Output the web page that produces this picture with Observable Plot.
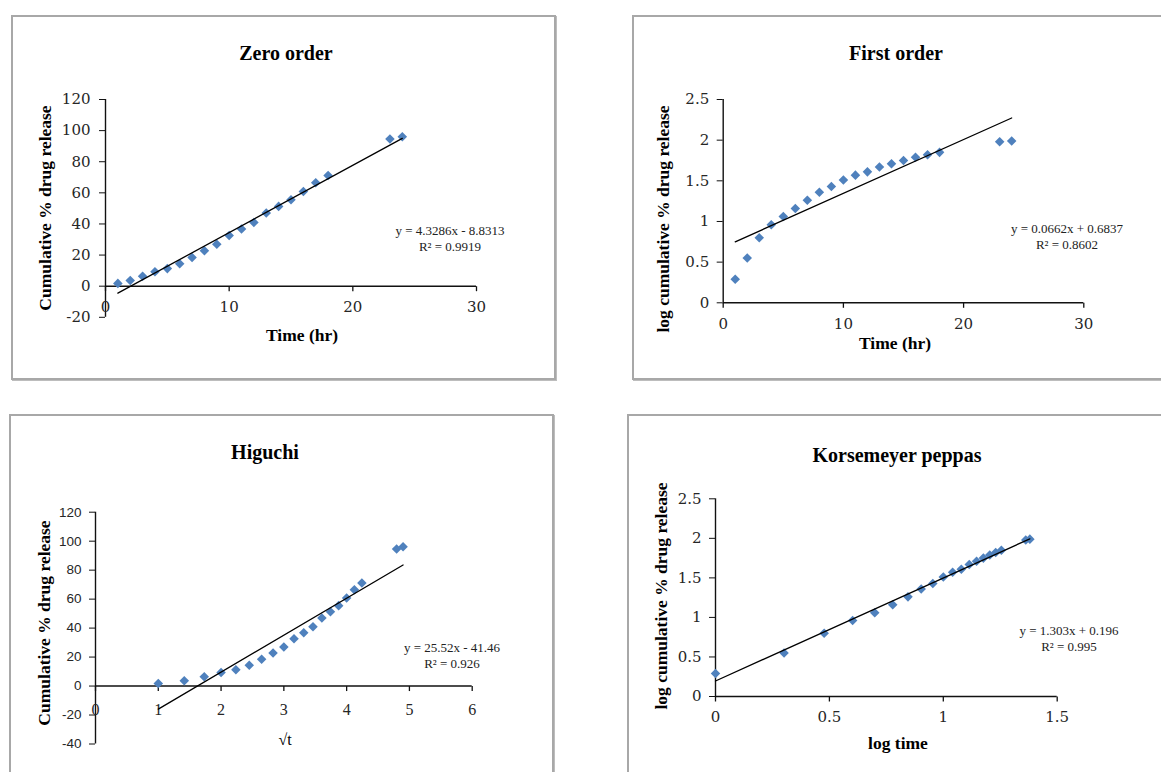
<!DOCTYPE html>
<html>
<head>
<meta charset="utf-8">
<script src="https://cdn.jsdelivr.net/npm/d3@7"></script>
<script src="https://cdn.jsdelivr.net/npm/@observablehq/plot@0.6"></script>
<style>
  html, body { margin: 0; padding: 0; background: #fff; }
  body { position: relative; width: 1161px; height: 772px; overflow: hidden; }
  .box { position: absolute; box-sizing: border-box; border: 2px solid #a8a8a8; box-shadow: 1px 1px 0 #bdbdbd; }
  .chart { position: absolute; }
  .chart svg { overflow: visible; max-width: none !important; }
  .lbl { position: absolute; white-space: nowrap; transform: translate(-50%, -50%); color: #000; font-family: "Liberation Serif", "Times New Roman", serif; }
  .title { font-weight: bold; font-size: 20px; }
  .axt { font-weight: bold; font-size: 17.5px; }
  .yt { transform: translate(-50%, -50%) rotate(-90deg); }
  .eq { font-size: 13px; text-align: center; line-height: 16px; color: #222; }
</style>
</head>
<body>
<script>
// ---------------- data ----------------
const time = [1, 2, 3, 4, 5, 6, 7, 8, 9, 10, 11, 12, 13, 14, 15, 16, 17, 18, 23, 24];
const sqrtTime = [1, 1.414, 1.732, 2, 2.236, 2.449, 2.646, 2.828, 3, 3.162, 3.317, 3.464, 3.606, 3.742, 3.873, 4, 4.123, 4.243, 4.796, 4.899];
const logTime = [0, 0.301, 0.477, 0.602, 0.699, 0.778, 0.845, 0.903, 0.954, 1, 1.041, 1.079, 1.114, 1.146, 1.176, 1.204, 1.23, 1.255, 1.362, 1.38];
const release = [1.8, 3.6, 6.4, 9.3, 11.3, 14.4, 18.5, 22.8, 27.0, 32.6, 36.8, 41.0, 47.0, 51.3, 55.5, 60.8, 66.5, 71.2, 94.6, 96.1];
const logRelease = [0.29, 0.55, 0.80, 0.96, 1.06, 1.16, 1.26, 1.36, 1.43, 1.51, 1.57, 1.61, 1.67, 1.71, 1.75, 1.79, 1.82, 1.85, 1.98, 1.99];

const titles = ["Zero order", "First order", "Higuchi", "Korsemeyer peppas"];
const xTitles = ["Time (hr)", "Time (hr)", "√t", "log time"];
const yTitles = ["Cumulative % drug release", "log cumulative % drug release", "Cumulative % drug release", "log cumulative % drug release"];
const slopes = [4.3286, 0.0662, 25.52, 1.303];
const intercepts = [-8.8313, 0.6837, -41.46, 0.196];
const eqLabels = ["y = 4.3286x - 8.8313", "y = 0.0662x + 0.6837", "y = 25.52x - 41.46", "y = 1.303x + 0.196"];
const r2Labels = ["R² = 0.9919", "R² = 0.8602", "R² = 0.926", "R² = 0.995"];

const xTicks0 = [0, 10, 20, 30];
const yTicks0 = [-20, 0, 20, 40, 60, 80, 100, 120];
const xTicks1 = [0, 10, 20, 30];
const yTicks1 = [0, 0.5, 1, 1.5, 2, 2.5];
const xTicks2 = [0, 1, 2, 3, 4, 5, 6];
const yTicks2 = [-40, -20, 0, 20, 40, 60, 80, 100, 120];
const xTicks3 = [0, 0.5, 1, 1.5];
const yTicks3 = [0, 0.5, 1, 1.5, 2, 2.5];

// ---------------- layout (page pixels) ----------------
const panels = [
  { xs: time, ys: release, xTicks: xTicks0, yTicks: yTicks0,
    box: [11, 15, 545, 365], frame: [105, 476, 99, 316.8],
    title: [286, 53], xt: [302, 335], yt: [45, 208], eq: [450, 231],
    xFont: "DejaVu Serif", xSize: 15, yFont: "DejaVu Serif", ySize: 15, yPad: 9, xDy: 21 },
  { xs: time, ys: logRelease, xTicks: xTicks1, yTicks: yTicks1,
    box: [632, 15, 560, 365], frame: [722.7, 1083.3, 99, 302.3],
    title: [896, 53], xt: [895, 343], yt: [663, 219], eq: [1067, 229],
    xFont: "DejaVu Serif", xSize: 15, yFont: "DejaVu Serif", ySize: 15, yPad: 8, xDy: 21 },
  { xs: sqrtTime, ys: release, xTicks: xTicks2, yTicks: yTicks2,
    box: [9, 414, 545, 380], frame: [95, 471.7, 511.7, 743.5],
    title: [265, 452], xt: [285, 740], yt: [44, 623], eq: [452, 648],
    xFont: "Liberation Serif", xSize: 16, yFont: "Liberation Sans", ySize: 13.5, yPad: 8, xDy: 24 },
  { xs: logTime, ys: logRelease, xTicks: xTicks3, yTicks: yTicks3,
    box: [627, 414, 560, 380], frame: [715, 1056.7, 498.3, 696],
    title: [897, 455], xt: [898, 743], yt: [661, 596], eq: [1069, 631],
    xFont: "DejaVu Serif", xSize: 15, yFont: "DejaVu Serif", ySize: 15, yPad: 8, xDy: 21 }
];

const blue = "#4F81BD";
const axisColor = "#111";
const tickDown = { draw(ctx) { ctx.moveTo(0, 0); ctx.lineTo(0, 5); } };

function addLabel(cls, text, x, y) {
  const d = document.createElement("div");
  d.className = "lbl " + cls;
  d.textContent = text;
  d.style.left = x + "px";
  d.style.top = y + "px";
  document.body.appendChild(d);
  return d;
}

panels.forEach((p, i) => {
  const [bl, bt, bw, bh] = p.box;
  const [fx0, fx1, fy0, fy1] = p.frame;

  const border = document.createElement("div");
  border.className = "box";
  Object.assign(border.style, { left: bl + "px", top: bt + "px", width: bw + "px", height: bh + "px" });
  document.body.appendChild(border);

  const pts = p.xs.map((x, j) => ({ x, y: p.ys[j] }));
  const ext = d3.extent(p.xs);
  const trend = ext.map(x => ({ x, y: slopes[i] * x + intercepts[i] }));

  const chart = Plot.plot({
    width: bw,
    height: bh,
    marginLeft: fx0 - bl,
    marginRight: bl + bw - fx1,
    marginTop: fy0 - bt,
    marginBottom: bt + bh - fy1,
    style: { background: "none", overflow: "visible", color: axisColor, maxWidth: "none" },
    x: { domain: [p.xTicks[0], p.xTicks[p.xTicks.length - 1]], axis: null },
    y: { domain: [p.yTicks[0], p.yTicks[p.yTicks.length - 1]], label: null },
    marks: [
      Plot.axisY({ ticks: p.yTicks, tickSize: 6, tickPadding: p.yPad, label: null,
        tickFormat: d => String(d), fontFamily: p.yFont, fontSize: p.ySize, fill: "#262626", stroke: axisColor }),
      Plot.ruleX([0], { stroke: axisColor, strokeWidth: 1.4 }),
      Plot.ruleY([0], { stroke: axisColor, strokeWidth: 1.4 }),
      Plot.dot(p.xTicks, { x: d => d, y: d => 0, symbol: tickDown, r: 1, fill: "none", stroke: axisColor, strokeWidth: 1.3 }),
      Plot.text(p.xTicks, { x: d => d, y: d => 0, text: d => String(d), dy: p.xDy,
        fontFamily: p.xFont, fontSize: p.xSize, fill: "#262626", lineAnchor: "middle" }),
      Plot.dot(pts, { x: "x", y: "y", symbol: "diamond2", r: 4.3, fill: blue, stroke: "none" }),
      Plot.line(trend, { x: "x", y: "y", stroke: "#000", strokeWidth: 1.3 })
    ]
  });
  chart.style.maxWidth = "none";
  const holder = document.createElement("div");
  holder.className = "chart";
  holder.style.left = bl + "px";
  holder.style.top = bt + "px";
  holder.style.width = bw + "px";
  holder.style.height = bh + "px";
  holder.appendChild(chart);
  document.body.appendChild(holder);

  addLabel("title", titles[i], p.title[0], p.title[1]);
  addLabel("axt", xTitles[i], p.xt[0], p.xt[1]);
  addLabel("axt yt", yTitles[i], p.yt[0], p.yt[1]);
  const eq = addLabel("eq", "", p.eq[0], p.eq[1] + 8);
  const l1 = document.createElement("div"); l1.textContent = eqLabels[i];
  const l2 = document.createElement("div"); l2.textContent = r2Labels[i];
  eq.appendChild(l1); eq.appendChild(l2);
});
// √t label uses regular weight in the reference
document.querySelectorAll(".axt").forEach(d => { if (d.textContent === "√t") { d.style.fontWeight = "normal"; d.style.fontSize = "16px"; } });
</script>
</body>
</html>
